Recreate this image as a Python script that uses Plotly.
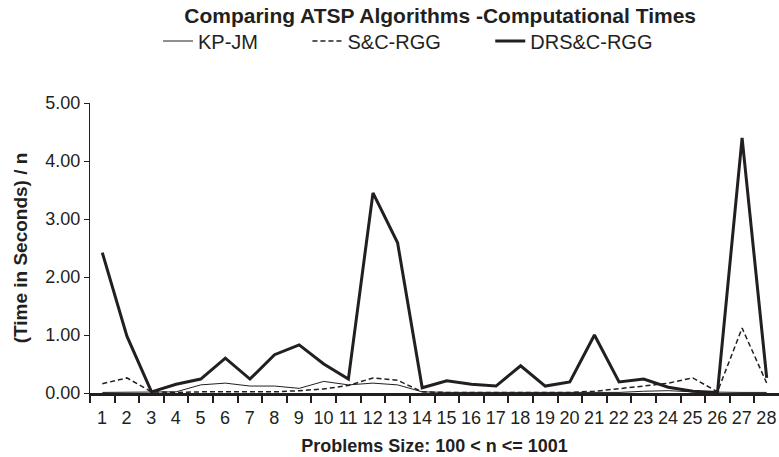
import plotly.graph_objects as go

problems = list(range(1, 29))

kp_jm = [0.01, 0.01, 0.01, 0.02, 0.14, 0.17, 0.12, 0.12, 0.08, 0.20, 0.14, 0.17, 0.14, 0.02,
         0.01, 0.01, 0.01, 0.01, 0.01, 0.01, 0.01, 0.01, 0.03, 0.04, 0.02, 0.01, 0.01, 0.01]
sc_rgg = [0.16, 0.26, 0.02, 0.01, 0.02, 0.02, 0.02, 0.02, 0.04, 0.07, 0.13, 0.26, 0.22, 0.02,
          0.01, 0.01, 0.01, 0.01, 0.01, 0.01, 0.03, 0.07, 0.12, 0.17, 0.26, 0.02, 1.12, 0.17]
drs_rgg = [2.42, 0.98, 0.02, 0.15, 0.24, 0.60, 0.24, 0.66, 0.83, 0.50, 0.24, 3.45, 2.59, 0.09,
           0.21, 0.15, 0.12, 0.47, 0.12, 0.19, 1.00, 0.19, 0.24, 0.10, 0.03, 0.01, 4.40, 0.26]

xtick_text = [str(p) for p in problems]
ytick_vals = [0, 1, 2, 3, 4, 5]
ytick_text = ["0.00", "1.00", "2.00", "3.00", "4.00", "5.00"]

ink = "#231f20"
FONT = "Liberation Sans, Arial, sans-serif"
PAD = "\u00a0" * 8

W, H = 779, 457
ML, MR, MT, MB = 90, 0, 103, 64
cat_px = (W - ML - MR) / len(problems)

fig = go.Figure()
fig.add_trace(go.Scatter(x=problems, y=kp_jm, mode="lines", name="KP-JM" + PAD,
                         line=dict(color=ink, width=1)))
fig.add_trace(go.Scatter(x=problems, y=sc_rgg, mode="lines", name="S&C-RGG" + PAD,
                         line=dict(color=ink, width=1.5, dash="5px,3px")))
fig.add_trace(go.Scatter(x=problems, y=drs_rgg, mode="lines", name="DRS&C-RGG",
                         line=dict(color=ink, width=3)))

fig.update_layout(
    width=W, height=H,
    margin=dict(l=ML, r=MR, t=MT, b=MB),
    paper_bgcolor="white", plot_bgcolor="white",
    font=dict(family=FONT, color=ink, size=18),
    title=dict(text="<b>Comparing ATSP Algorithms -Computational Times</b>",
               x=0.565, xref="container", xanchor="center",
               y=1 - 16 / H, yref="container", yanchor="middle",
               font=dict(size=21, color=ink, family=FONT)),
    legend=dict(orientation="h", x=158 / W, xref="container", xanchor="left",
                y=1 - 41 / H, yref="container", yanchor="middle",
                font=dict(size=20, color=ink, family=FONT),
                bgcolor="rgba(0,0,0,0)"),
    showlegend=True,
)

fig.update_xaxes(
    range=[0.5, 28.5],
    tickvals=[p - 0.5 for p in problems], ticktext=xtick_text,
    ticklabelshift=int(round(cat_px / 2)),
    showgrid=False, zeroline=False,
    showline=True, linecolor=ink, linewidth=2.5,
    ticks="outside", ticklen=7, tickcolor=ink, tickwidth=1.5,
    tickangle=0,
    tickfont=dict(size=18, color=ink, family=FONT),
    title=dict(text="<b>Problems Size: 100 < n <= 1001</b>",
               font=dict(size=18, color=ink, family=FONT), standoff=13),
)
fig.update_yaxes(
    range=[0, 5],
    tickvals=ytick_vals, ticktext=ytick_text,
    showgrid=False, zeroline=False,
    showline=True, linecolor=ink, linewidth=1,
    ticks="outside", ticklen=5, tickcolor=ink,
    tickfont=dict(size=18, color=ink, family=FONT),
    title=dict(text="<b>(Time in Seconds) / n</b>",
               font=dict(size=19, color=ink, family=FONT), standoff=12),
)

fig.write_html("out.html")
